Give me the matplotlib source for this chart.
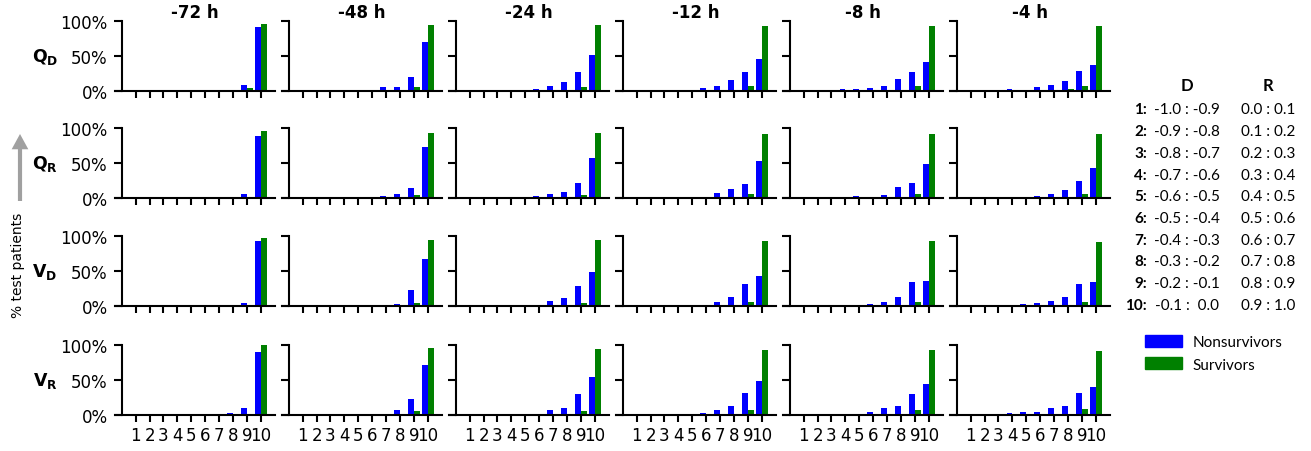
import matplotlib
matplotlib.use('Agg')
import matplotlib.pyplot as plt
import numpy as np

# time points and measures
times = ['-72 h', '-48 h', '-24 h', '-12 h', '-8 h', '-4 h']
row_labels = [r'$\mathbf{Q_D}$', r'$\mathbf{Q_R}$', r'$\mathbf{V_D}$', r'$\mathbf{V_R}$']
bins = [str(i) for i in range(1, 11)]

# % of test patients per bin (nonsurvivors / survivors), one list per time point
qd_non = [[0, 0, 0, 0, 0, 0, 0, 0, 8, 91],
          [0, 0, 0, 0, 0, 0, 5, 5, 20, 70],
          [0, 0, 0, 0, 0, 2, 7, 12, 27, 51],
          [0, 0, 0, 0, 0, 4, 7, 15, 27, 45],
          [0, 0, 0, 2, 2, 4, 7, 17, 27, 41],
          [0, 0, 0, 2, 0, 5, 8, 14, 28, 37]]
qd_surv = [[0, 0, 0, 0, 0, 0, 0, 0, 4, 95],
           [0, 0, 0, 0, 0, 0, 0, 0, 5, 94],
           [0, 0, 0, 0, 0, 0, 0, 0, 5, 94],
           [0, 0, 0, 0, 0, 0, 0, 0, 7, 92],
           [0, 0, 0, 0, 0, 0, 0, 0, 7, 92],
           [0, 0, 0, 0, 0, 0, 0, 2, 7, 92]]
qr_non = [[0, 0, 0, 0, 0, 0, 2, 2, 6, 89],
          [0, 0, 0, 0, 0, 0, 3, 6, 15, 73],
          [0, 0, 0, 0, 2, 3, 6, 9, 22, 58],
          [0, 0, 0, 0, 0, 2, 8, 13, 20, 53],
          [0, 0, 0, 0, 3, 2, 5, 16, 22, 49],
          [2, 0, 0, 2, 2, 3, 6, 12, 25, 43]]
qr_surv = [[0, 0, 0, 0, 0, 0, 0, 0, 2, 96],
           [0, 0, 0, 0, 0, 0, 0, 0, 5, 93],
           [0, 0, 0, 0, 0, 0, 0, 0, 5, 93],
           [0, 0, 0, 0, 0, 0, 0, 0, 6, 92],
           [0, 0, 0, 0, 0, 0, 0, 0, 6, 92],
           [0, 0, 0, 0, 0, 0, 0, 0, 6, 92]]
vd_non = [[0, 0, 0, 0, 0, 0, 0, 0, 5, 93],
          [0, 0, 0, 0, 0, 2, 2, 3, 23, 68],
          [0, 0, 0, 0, 0, 0, 8, 12, 29, 49],
          [0, 0, 0, 0, 0, 2, 6, 13, 32, 43],
          [0, 0, 0, 0, 2, 3, 6, 13, 35, 36],
          [0, 0, 0, 2, 3, 5, 8, 13, 32, 35]]
vd_surv = [[0, 0, 0, 0, 0, 0, 0, 0, 2, 98],
           [0, 0, 0, 0, 0, 0, 0, 0, 5, 95],
           [0, 0, 0, 0, 0, 0, 0, 0, 5, 95],
           [0, 0, 0, 0, 0, 0, 0, 0, 6, 93],
           [0, 0, 0, 0, 0, 0, 0, 0, 6, 93],
           [0, 0, 0, 0, 0, 0, 0, 0, 6, 92]]
vr_non = [[0, 0, 0, 0, 0, 0, 0, 2, 10, 90],
          [0, 0, 0, 0, 0, 0, 0, 7, 22, 71],
          [0, 0, 0, 0, 0, 0, 7, 10, 30, 54],
          [0, 0, 0, 0, 0, 2, 7, 12, 31, 48],
          [0, 0, 0, 0, 0, 4, 10, 12, 30, 44],
          [0, 0, 0, 2, 4, 4, 10, 12, 31, 40]]
vr_surv = [[0, 0, 0, 0, 0, 0, 0, 0, 0, 99],
           [0, 0, 0, 0, 0, 0, 0, 0, 5, 95],
           [0, 0, 0, 0, 0, 0, 0, 0, 5, 94],
           [0, 0, 0, 0, 0, 0, 0, 0, 7, 92],
           [0, 0, 0, 0, 0, 0, 0, 0, 7, 92],
           [0, 0, 0, 0, 0, 0, 0, 0, 8, 91]]

# bin ranges for the key on the right
d_ranges = ['-1.0 : -0.9', '-0.9 : -0.8', '-0.8 : -0.7', '-0.7 : -0.6', '-0.6 : -0.5',
            '-0.5 : -0.4', '-0.4 : -0.3', '-0.3 : -0.2', '-0.2 : -0.1', '-0.1 :  0.0']
r_ranges = ['0.0 : 0.1', '0.1 : 0.2', '0.2 : 0.3', '0.3 : 0.4', '0.4 : 0.5',
            '0.5 : 0.6', '0.6 : 0.7', '0.7 : 0.8', '0.8 : 0.9', '0.9 : 1.0']

non_rows = [qd_non, qr_non, vd_non, vr_non]
surv_rows = [qd_surv, qr_surv, vd_surv, vr_surv]

W, H = 1311, 452
fig = plt.figure(figsize=(W / 100, H / 100), dpi=100)

x = np.arange(1, 11)
w = 0.42
row_tops = [21.7, 129.3, 237.3, 345.7]
ax_h = 70
ax_w = 160

for i in range(4):
    for j in range(6):
        left = 114.8 + 167 * j
        bottom = H - row_tops[i] - ax_h
        ax = fig.add_axes([left / W, bottom / H, ax_w / W, ax_h / H])
        ax.bar(x - w / 2, np.array(non_rows[i][j]) / 100, w, color='blue')
        ax.bar(x + w / 2, np.array(surv_rows[i][j]) / 100, w, color='green')
        ax.set_xlim(-0.5, 11)
        ax.set_ylim(0, 1)
        ax.spines['top'].set_visible(False)
        ax.spines['right'].set_visible(False)
        ax.spines['left'].set_position(('data', 0))
        ax.spines['left'].set_linewidth(1.5)
        ax.spines['bottom'].set_linewidth(1.5)
        ax.set_xticks(x)
        ax.set_yticks([0, 0.5, 1])
        ax.tick_params(axis='x', length=5, width=1.5, labelsize=12, pad=3)
        ax.tick_params(axis='y', length=6, width=1.5, labelsize=12, pad=4)
        if i == 3:
            ax.set_xticklabels(bins)
        else:
            ax.set_xticklabels([])
        if j == 0:
            ax.set_yticklabels(['0%', '50%', '100%'])
        else:
            ax.set_yticklabels([])
        if i == 0:
            ax.set_title(times[j], fontsize=12, fontweight='bold', pad=-5)
        if i == 0 and j == 0:
            first_ax = ax
    fig.text(45 / W, 1 - (row_tops[i] + ax_h / 2) / H, row_labels[i],
             fontsize=12.5, ha='center', va='center')

# y label with arrow
fig.text(18 / W, 1 - 265 / H, '% test patients', rotation=90, fontsize=10,
         ha='center', va='center')
first_ax.annotate('', xy=(20, H - 135), xytext=(20, H - 202),
                  xycoords='figure pixels', textcoords='figure pixels',
                  arrowprops=dict(facecolor='#a0a0a0', edgecolor='none',
                                  width=3, headwidth=12, headlength=11),
                  annotation_clip=False)

# key table
kfont = 'Lato'
fig.text(1187 / W, 1 - 86 / H, 'D', fontsize=12, fontweight='bold',
         ha='center', va='center', family=kfont)
fig.text(1268 / W, 1 - 86 / H, 'R', fontsize=12, fontweight='bold',
         ha='center', va='center', family=kfont)
for k in range(10):
    yy = 1 - (110.5 + 21.7 * k) / H
    fig.text(1147 / W, yy, bins[k] + ':', fontsize=11, fontweight='bold',
             ha='right', va='center', family=kfont)
    fig.text(1187 / W, yy, d_ranges[k], fontsize=11, ha='center', va='center', family=kfont)
    fig.text(1268 / W, yy, r_ranges[k], fontsize=11, ha='center', va='center', family=kfont)

# legend
handles = [plt.Rectangle((0, 0), 1, 1, color='blue'), plt.Rectangle((0, 0), 1, 1, color='green')]
fig.legend(handles, ['Nonsurvivors', 'Survivors'], loc='upper left',
           bbox_to_anchor=(1139 / W, 1 - 330 / H), frameon=False,
           prop={'family': kfont, 'size': 11}, handlelength=2.4, handleheight=0.85,
           handletextpad=0.7, labelspacing=0.5, borderaxespad=0)

fig.savefig('out.png', dpi=100)
